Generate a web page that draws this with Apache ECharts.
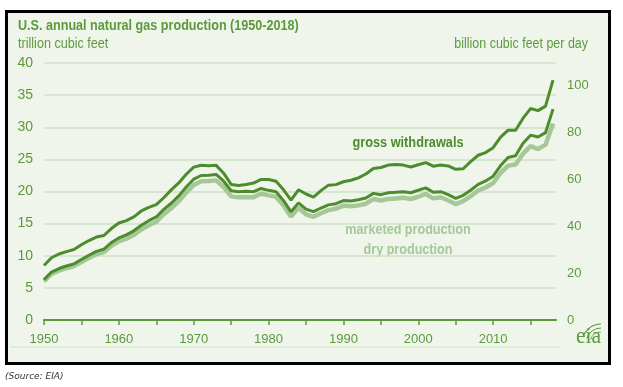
<!DOCTYPE html>
<html>
<head>
<meta charset="utf-8">
<script src="https://cdn.jsdelivr.net/npm/echarts@6/dist/echarts.min.js"></script>
<style>
html,body{margin:0;padding:0;background:#fff;}
#c{width:623px;height:387px;}
</style>
</head>
<body>
<div id="c"></div>
<script>
var years = [];
for (var y = 1950; y <= 2018; y++) years.push(y);
var gross = [8.48,9.69,10.27,10.65,10.98,11.72,12.37,12.91,13.15,14.23,15.09,15.46,16.04,16.97,17.54,17.96,19.03,20.25,21.33,22.68,23.79,24.09,24.02,24.07,22.85,21.10,20.94,21.10,21.31,21.88,21.87,21.59,20.27,18.66,20.27,19.61,19.13,20.14,20.99,21.07,21.52,21.75,22.13,22.73,23.58,23.74,24.11,24.21,24.11,23.82,24.17,24.50,23.94,24.12,23.97,23.46,23.54,24.66,25.64,26.06,26.82,28.48,29.54,29.52,31.41,32.91,32.59,33.29,37.33];
var marketed = [6.28,7.46,8.01,8.40,8.74,9.41,10.08,10.68,11.03,12.05,12.77,13.25,13.88,14.75,15.46,16.04,17.21,18.17,19.32,20.70,21.92,22.49,22.53,22.65,21.60,20.11,19.95,20.03,19.97,20.47,20.18,19.96,18.58,16.84,18.23,17.27,16.86,17.43,17.92,18.10,18.59,18.53,18.71,18.98,19.71,19.51,19.81,19.87,19.96,19.81,20.20,20.57,19.89,19.97,19.52,18.93,19.41,20.20,21.11,21.65,22.38,24.04,25.28,25.56,27.50,28.77,28.48,29.16,32.82];
var dry = [6.02,7.16,7.69,8.06,8.39,9.03,9.66,10.25,10.57,11.55,12.23,12.66,13.25,14.08,14.74,15.29,16.47,17.39,18.49,19.83,21.01,21.61,21.62,21.73,20.71,19.24,19.10,19.16,19.12,19.66,19.40,19.18,17.82,16.09,17.47,16.45,16.06,16.62,17.10,17.31,17.81,17.70,17.84,18.10,18.82,18.60,18.85,18.90,19.02,18.83,19.18,19.62,18.93,19.10,18.59,18.05,18.50,19.27,20.16,20.62,21.32,22.90,24.03,24.21,25.89,27.06,26.59,27.29,30.59];
var leftTicks = [0,5,10,15,20,25,30,35,40];
var rightTicks = [0,20,40,60,80,100];

function pairs(arr){ return years.map(function(y,i){ return [y, arr[i]]; }); }

var FONT = "'Liberation Sans Narrow','Liberation Sans',Arial,sans-serif";
var GREEN = '#5b9a3c';
var DARK = '#4c8c2c';
var LIGHT = '#a6c797';

var chart = echarts.init(document.getElementById('c'), null, {renderer:'canvas'});
chart.setOption({
  backgroundColor: '#ffffff',
  animation: false,
  grid: {left: 44, right: 67, top: 63, bottom: 67},
  xAxis: {
    type: 'value', min: 1950, max: 2018.4, interval: 5,
    axisLine: {show: true, lineStyle: {color: GREEN, width: 2}},
    axisTick: {show: true, inside: false, length: 5, lineStyle: {color: GREEN, width: 1.5}},
    axisLabel: {color: GREEN, fontFamily: FONT, fontSize: 13, margin: 13,
      formatter: function(v){ return (v % 10 === 0) ? String(v) : ''; },
      showMaxLabel: false},
    splitLine: {show: false}
  },
  yAxis: [{
    type: 'value', min: 0, max: 40, interval: 5,
    axisLine: {show: false}, axisTick: {show: false},
    axisLabel: {color: GREEN, fontFamily: FONT, fontSize: 14, margin: 11,
      formatter: function(v){ return leftTicks.indexOf(v) >= 0 ? String(v) : ''; }},
    splitLine: {show: true, lineStyle: {color: '#cfe0c5', width: 1.5}}
  },{
    type: 'value', min: 0, max: 40000/365, interval: 20, position: 'right',
    axisLine: {show: false}, axisTick: {show: false},
    axisLabel: {color: GREEN, fontFamily: FONT, fontSize: 13, margin: 11, showMaxLabel: false,
      formatter: function(v){ return rightTicks.indexOf(v) >= 0 ? String(v) : ''; }},
    splitLine: {show: false}
  }],
  series: [
    {name: 'dry production', type: 'line', data: pairs(dry), showSymbol: false, symbol: 'none',
     lineStyle: {color: LIGHT, width: 4.5}, z: 2},
    {name: 'marketed production', type: 'line', data: pairs(marketed), showSymbol: false, symbol: 'none',
     lineStyle: {color: DARK, width: 3}, z: 3},
    {name: 'gross withdrawals', type: 'line', data: pairs(gross), showSymbol: false, symbol: 'none',
     lineStyle: {color: DARK, width: 3}, z: 4}
  ],
  graphic: [
    {type: 'rect', z: -10, shape: {x: 6.5, y: 11.5, width: 603, height: 352},
     style: {fill: '#f0f5ec', stroke: '#000', lineWidth: 3}},
    {type: 'line', z: -5, shape: {x1: 10, y1: 347, x2: 560, y2: 347}, style: {stroke: '#dde7d6', lineWidth: 1.5}},
    {type: 'text', x: 18, y: 26, scaleX: 0.84, style: {text: 'U.S. annual natural gas production (1950-2018)', fill: GREEN, font: 'bold 15px ' + FONT, textVerticalAlign: 'middle'}},
    {type: 'text', x: 18, y: 44, scaleX: 0.9, style: {text: 'trillion cubic feet', fill: GREEN, font: '14px ' + FONT, textVerticalAlign: 'middle'}},
    {type: 'text', x: 588, y: 44, scaleX: 0.89, style: {text: 'billion cubic feet per day', fill: GREEN, font: '14px ' + FONT, textAlign: 'right', textVerticalAlign: 'middle'}},
    {type: 'text', x: 408, y: 143, scaleX: 0.91, style: {text: 'gross withdrawals', fill: DARK, font: 'bold 14px ' + FONT, textAlign: 'center', textVerticalAlign: 'middle'}},
    {type: 'text', x: 408, y: 230, scaleX: 0.9, style: {text: 'marketed production', fill: LIGHT, font: 'bold 14px ' + FONT, textAlign: 'center', textVerticalAlign: 'middle'}},
    {type: 'text', x: 408, y: 250, scaleX: 0.9, style: {text: 'dry production', fill: LIGHT, font: 'bold 14px ' + FONT, textAlign: 'center', textVerticalAlign: 'middle'}},
    {type: 'text', x: 576, y: 337, scaleX: 0.9, style: {text: 'eia', fill: GREEN, font: '24px "Liberation Serif","DejaVu Serif",serif', textVerticalAlign: 'middle'}},
    {type: 'arc', shape: {cx: 601, cy: 343, r: 19, startAngle: Math.PI*1.1, endAngle: Math.PI*1.5}, style: {stroke: GREEN, lineWidth: 1.2, fill: null}},
    {type: 'arc', shape: {cx: 601, cy: 343, r: 15, startAngle: Math.PI*1.1, endAngle: Math.PI*1.5}, style: {stroke: GREEN, lineWidth: 1, fill: null}},
    {type: 'arc', shape: {cx: 601, cy: 343, r: 11, startAngle: Math.PI*1.1, endAngle: Math.PI*1.5}, style: {stroke: GREEN, lineWidth: 0.8, fill: null}},
    {type: 'text', left: 5, top: 372, style: {text: '(Source: EIA)', fill: '#333', font: 'italic 9px "DejaVu Sans",sans-serif'}}
  ]
});
</script>
</body>
</html>
